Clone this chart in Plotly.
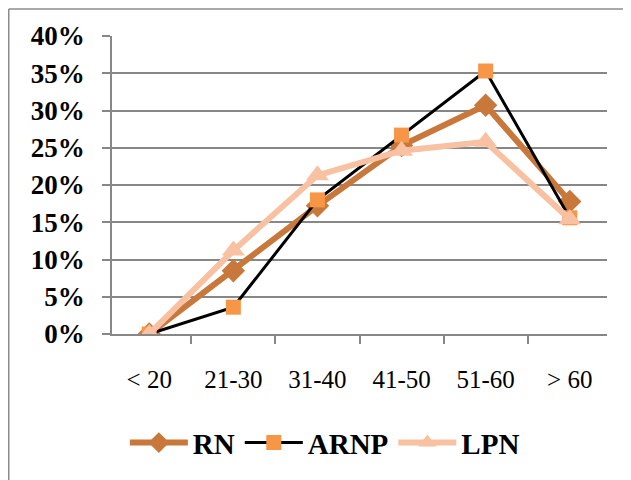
import plotly.graph_objects as go

categories = ["< 20", "21-30", "31-40", "41-50", "51-60", "> 60"]
rn = [0.0, 8.5, 17.2, 25.3, 30.7, 17.8]
arnp = [0.0, 3.6, 18.0, 26.7, 35.3, 15.6]
lpn = [0.0, 11.2, 21.3, 24.6, 25.8, 15.4]
y_ticks = [0, 5, 10, 15, 20, 25, 30, 35, 40]
y_tick_labels = [f"{v}%" for v in y_ticks]

fig = go.Figure()
fig.add_trace(go.Scatter(x=categories, y=rn, name="RN", mode="lines+markers",
                         line=dict(color="#C8783A", width=6),
                         marker=dict(symbol="diamond", size=18, color="#C8783A")))
fig.add_trace(go.Scatter(x=categories, y=arnp, name="ARNP", mode="lines+markers",
                         line=dict(color="#000000", width=3),
                         marker=dict(symbol="square", size=15, color="#F79646")))
fig.add_trace(go.Scatter(x=categories, y=lpn, name="LPN", mode="lines+markers",
                         line=dict(color="#F8C1A2", width=6),
                         marker=dict(symbol="triangle-up", size=20, color="#F8C1A2")))

OFF = 8  # page body margin
L, R, T, B = 112, 24, 36, 146
pw, ph = 631 - L - R, 480 - T - B
ml, mr, mt, mb = L - OFF, R + OFF, T - OFF, B + OFF

# outer frame: top and left edges only (in figure pixel terms -> paper units)
fx0 = (0.75 - ml) / pw
fx1 = (631 - ml) / pw
fy_top = 1 + (mt - 1) / ph
fy_bot = -(mb) / ph
fig.add_shape(type="line", xref="paper", yref="paper", x0=fx0, x1=fx1, y0=fy_top, y1=fy_top,
              line=dict(color="#8C8C8C", width=1.5), layer="below")
fig.add_shape(type="line", xref="paper", yref="paper", x0=fx0, x1=fx0, y0=fy_top, y1=fy_bot,
              line=dict(color="#8C8C8C", width=1.5), layer="below")

fig.update_layout(
    width=631, height=480,
    margin=dict(l=ml, r=mr, t=mt, b=mb),
    paper_bgcolor="white", plot_bgcolor="white",
    font=dict(family="Liberation Serif", color="black"),
    showlegend=True,
    legend=dict(orientation="h", x=0.43, xanchor="center", y=-0.365, yanchor="middle",
                font=dict(size=29, family="Liberation Serif", weight="bold"),
                itemwidth=58, tracegroupgap=0),
    xaxis=dict(type="category", tickson="boundaries", ticks="outside", ticklen=8,
               tickcolor="#878787", tickwidth=1.5, showline=True, linecolor="#878787",
               linewidth=1.5, showgrid=False, tickfont=dict(size=25),
               ticklabelstandoff=22),
    yaxis=dict(range=[0, 40], tickvals=y_ticks, ticktext=y_tick_labels,
               ticks="outside", ticklen=8, tickcolor="#878787", tickwidth=1.5,
               showline=True, linecolor="#878787", linewidth=1.5,
               showgrid=True, gridcolor="#878787", gridwidth=1.5,
               tickfont=dict(size=27, weight="bold"), ticklabelstandoff=12,
               zeroline=False),
)
fig.write_html("out.html")
